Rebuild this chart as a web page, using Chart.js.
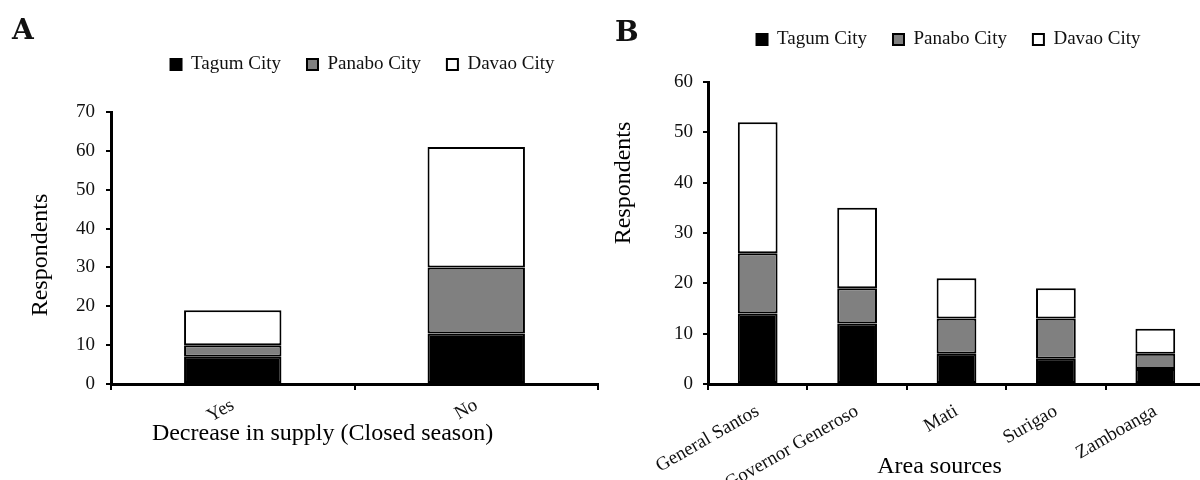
<!DOCTYPE html>
<html><head><meta charset="utf-8">
<script src="https://cdn.jsdelivr.net/npm/chart.js@4/dist/chart.umd.min.js"></script>
<style>
html,body{margin:0;padding:0;background:#fff;overflow:hidden;width:1200px;height:480px;}
#wrapA{position:absolute;left:0;top:0;width:600px;height:480px;}
#wrapB{position:absolute;left:600px;top:0;width:610px;height:480px;}
.lbl{position:absolute;font:bold 28px 'DejaVu Serif',serif;color:#111;line-height:1;}
</style></head><body>
<div id="wrapA"><canvas id="cA" width="600" height="480"></canvas></div>
<div id="wrapB"><canvas id="cB" width="610" height="480"></canvas></div>
<div class="lbl" style="left:12px;top:16px">A</div>
<div class="lbl" style="left:615px;top:18px">B</div>
<script>
const seriesNames = ['Tagum City', 'Panabo City', 'Davao City'];
const seriesColors = ['#000000', '#808080', '#ffffff'];

const catsA = ['Yes', 'No'];
const tagumA = [7, 13];
const panaboA = [3, 17];
const davaoA = [9, 31];

const catsB = ['General Santos', 'Governor Generoso', 'Mati', 'Surigao', 'Zamboanga'];
const tagumB = [14, 12, 6, 5, 3];
const panaboB = [12, 7, 7, 8, 3];
const davaoB = [26, 16, 8, 6, 5];

const yMaxA = 70;
const yMaxB = 60;
const yStep = 10;

const FONT = "'Liberation Serif', 'Times New Roman', serif";

function shiftTitle(dx, dy) {
  return (s) => {
    if (s.$shifted) return;
    s.$shifted = true;
    const orig = s.drawTitle;
    s.drawTitle = function () {
      const ctx = this.ctx;
      ctx.save(); ctx.translate(dx, dy); orig.call(this); ctx.restore();
    };
  };
}

function makeChart(id, cats, vals, opt) {
  return new Chart(document.getElementById(id), {
    type: 'bar',
    data: {
      labels: cats,
      datasets: vals.map((v, i) => ({
        label: seriesNames[i], data: v,
        backgroundColor: seriesColors[i], borderColor: '#000', borderWidth: 2,
        borderSkipped: false, categoryPercentage: 1, barPercentage: 0.4
      }))
    },
    plugins: [{
      id: 'legendShift',
      afterLayout(c) { c.legend.left += opt.legendDx; c.legend.right += opt.legendDx; }
    }],
    options: {
      responsive: false, animation: false, devicePixelRatio: 1,
      layout: { padding: { top: opt.padTop, left: 0, right: opt.padRight, bottom: 0 } },
      plugins: {
        legend: {
          display: true, position: 'top', fullSize: false,
          labels: { boxWidth: 11, boxHeight: 11, padding: 26, color: '#111', font: { family: FONT, size: 19 } }
        },
        title: { display: true, text: '', weight: 500, font: { size: 10, lineHeight: 1 }, padding: { top: 0, bottom: opt.spacer - 10 } },
        tooltip: { enabled: false }
      },
      scales: {
        x: {
          stacked: true,
          grid: { display: true, offset: true, drawOnChartArea: false, drawTicks: true, tickLength: 6, color: '#000', lineWidth: 2 },
          border: { display: true, color: '#000', width: 3 },
          ticks: { color: '#111', font: { family: FONT, size: 19 }, minRotation: 30, maxRotation: 30, padding: opt.xTickPad, autoSkip: false },
          title: { display: true, text: opt.xTitle, color: '#000', font: { family: FONT, size: 24, lineHeight: 1 }, padding: { top: 0, bottom: opt.xTitlePad } },
          afterFit: (s) => { s.height = opt.xHeight; },
          afterUpdate: shiftTitle(opt.xTitleDx, 0)
        },
        y: {
          stacked: true, min: 0, max: opt.yMax,
          ticks: { stepSize: yStep, color: '#111', font: { family: FONT, size: 19 }, padding: opt.yTickPad },
          grid: { drawOnChartArea: false, drawTicks: true, tickLength: 5, color: '#000', lineWidth: 2 },
          border: { display: true, color: '#000', width: 3 },
          title: { display: true, text: 'Respondents', color: '#000', font: { family: FONT, size: 24, lineHeight: 1 }, padding: { top: opt.yTitlePad, bottom: 0 } },
          afterFit: (s) => { s.width = opt.yWidth; },
          afterUpdate: shiftTitle(0, opt.yTitleDy)
        }
      }
    }
  });
}

makeChart('cA', catsA, [tagumA, panaboA, davaoA], {
  padTop: 29, padRight: 2, spacer: 28, xTitle: 'Decrease in supply (Closed season)', xTitlePad: 34, xTitleDx: -32,
  xHeight: 96, xTickPad: 4, yMax: yMaxA, yTitlePad: 29, yTitleDy: 7, yWidth: 111, yTickPad: 11, legendDx: 8
});
makeChart('cB', catsB, [tagumB, panaboB, davaoB], {
  padTop: 4, padRight: 5, spacer: 23, xTitle: 'Area sources', xTitlePad: 1, xTitleDx: -17,
  xHeight: 96, xTickPad: 10, yMax: yMaxB, yTitlePad: 12, yTitleDy: -50, yWidth: 108, yTickPad: 10, legendDx: -8
});
</script>
</body></html>
